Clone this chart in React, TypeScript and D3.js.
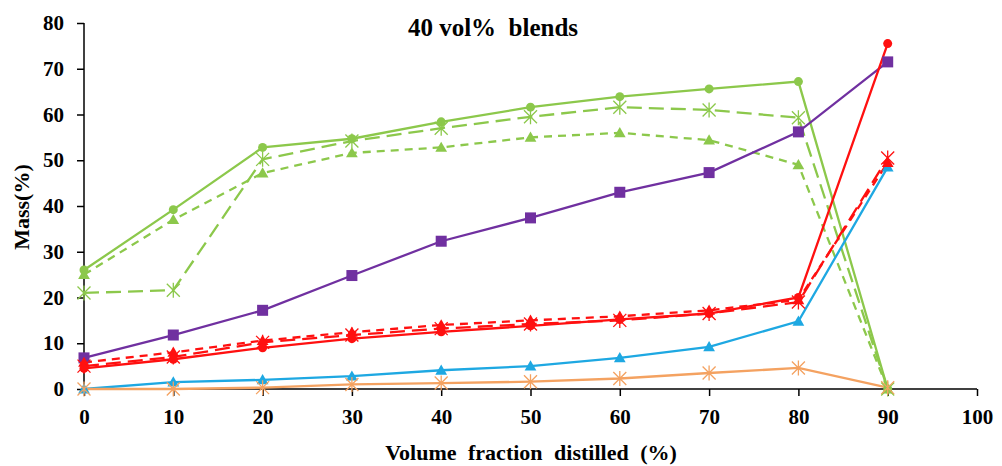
import React, { useEffect, useRef } from 'react'
import * as d3 from 'd3'

// distilled volume fraction (%)
const fractions = [0, 10, 20, 30, 40, 50, 60, 70, 80, 90]
const xTicks = [0, 10, 20, 30, 40, 50, 60, 70, 80, 90, 100]
const yTicks = [0, 10, 20, 30, 40, 50, 60, 70, 80]

const greenCircle = [26, 39.2, 52.8, 54.7, 58.4, 61.6, 63.9, 65.6, 67.2, 0]
const greenStar = [21, 21.6, 50.2, 54.2, 57, 59.5, 61.6, 61, 59.3, 0]
const greenTriangle = [25, 37, 47.2, 51.6, 52.8, 55, 56, 54.4, 49, 0]
const purpleSquare = [6.8, 11.8, 17.2, 24.8, 32.3, 37.4, 43, 47.3, 56.2, 71.5]
const redCircle = [4.5, 6.5, 9, 11, 12.5, 13.8, 15.2, 16.5, 20, 75.5]
const redStar = [5, 7, 10.2, 11.8, 13.2, 14.2, 15, 16.5, 19, 50.5]
const redTriangle = [5.8, 8, 10.6, 12.4, 14, 15, 15.9, 17.2, 19.5, 49.5]
const blueTriangle = [0, 1.5, 2, 2.8, 4.1, 5, 6.8, 9.2, 14.8, 48.5]
const orangeStar = [0, 0, 0.3, 1, 1.3, 1.6, 2.3, 3.5, 4.6, 0.3]

const series = [
  { values: greenCircle, color: '#8cc84b', dash: null, marker: 'circle' },
  { values: greenStar, color: '#8cc84b', dash: '15,7', marker: 'star' },
  { values: greenTriangle, color: '#8cc84b', dash: '8,6', marker: 'triangle' },
  { values: purpleSquare, color: '#7030a0', dash: null, marker: 'square' },
  { values: blueTriangle, color: '#1ea8e2', dash: null, marker: 'triangle' },
  { values: orangeStar, color: '#f4a261', dash: null, marker: 'star' },
  { values: redStar, color: '#ff1010', dash: '15,7', marker: 'star' },
  { values: redTriangle, color: '#ff1010', dash: '8,6', marker: 'triangle' },
  { values: redCircle, color: '#ff1010', dash: null, marker: 'circle' },
]

const W = 1002
const H = 466
const font = '"Liberation Serif", "Times New Roman", serif'

export default function App() {
  const ref = useRef<SVGSVGElement>(null)

  useEffect(() => {
    const svg = d3.select(ref.current)
    svg.selectAll('*').remove()

    const x = d3.scaleLinear().domain([0, 100]).range([84, 977])
    const y = d3.scaleLinear().domain([0, 80]).range([389, 23])

    // axes
    const yAxis = svg.append('g').attr('transform', 'translate(84,0)')
      .call(d3.axisLeft(y).tickValues(yTicks).tickSize(7).tickPadding(13))
    const xAxis = svg.append('g').attr('transform', 'translate(0,389)')
      .call(d3.axisBottom(x).tickValues(xTicks).tickSize(7).tickPadding(13))
    ;[yAxis, xAxis].forEach(g => {
      g.select('.domain').attr('stroke', '#000').attr('stroke-width', 1.5)
      g.selectAll('.tick line').attr('stroke', '#000').attr('stroke-width', 1.5)
      g.selectAll('.tick text')
        .attr('fill', '#000')
        .style('font-family', font)
        .style('font-weight', 'bold')
        .style('font-size', '21px')
    })
    // remove outer ticks of the domain path
    yAxis.select('.domain').attr('d', `M0,${y(80)}V${y(0)}`)
    xAxis.select('.domain').attr('d', `M${x(0)},0H${x(100)}`)

    const line = d3.line<number>()
      .x((d, i) => x(fractions[i]))
      .y(d => y(d))

    series.forEach(s => {
      svg.append('path')
        .attr('d', line(s.values))
        .attr('fill', 'none')
        .attr('stroke', s.color)
        .attr('stroke-width', 2.3)
        .attr('stroke-dasharray', s.dash)
    })

    series.forEach(s => {
      const g = svg.append('g')
      s.values.forEach((v, i) => {
        const cx = x(fractions[i]), cy = y(v)
        if (s.marker === 'circle') {
          g.append('circle').attr('cx', cx).attr('cy', cy).attr('r', 4.5).attr('fill', s.color)
        } else if (s.marker === 'square') {
          g.append('rect').attr('x', cx - 5.5).attr('y', cy - 5.5)
            .attr('width', 11).attr('height', 11).attr('fill', s.color)
        } else if (s.marker === 'triangle') {
          g.append('path')
            .attr('d', d3.symbol(d3.symbolTriangle, 60)())
            .attr('transform', `translate(${cx},${cy + 1})`)
            .attr('fill', s.color)
        } else {
          const r = 6.5
          g.append('path')
            .attr('d', `M${cx - r},${cy - r}L${cx + r},${cy + r}M${cx - r},${cy + r}L${cx + r},${cy - r}M${cx},${cy - r - 1}L${cx},${cy + r + 1}`)
            .attr('stroke', s.color)
            .attr('stroke-width', 1.3)
        }
      })
    })

    // title and axis labels
    svg.append('text')
      .attr('x', 493).attr('y', 36)
      .attr('text-anchor', 'middle')
      .style('font-family', font).style('font-weight', 'bold').style('font-size', '25px')
      .style('white-space', 'pre')
      .text('40 vol%  blends')

    svg.append('text')
      .attr('transform', 'translate(29,207) rotate(-90)')
      .attr('text-anchor', 'middle')
      .style('font-family', font).style('font-weight', 'bold').style('font-size', '22px')
      .text('Mass(%)')

    svg.append('text')
      .attr('x', 531).attr('y', 460)
      .attr('text-anchor', 'middle')
      .attr('word-spacing', 6)
      .style('font-family', font).style('font-weight', 'bold').style('font-size', '22px')
      .text('Volume fraction distilled (%)')
  }, [])

  return (
    <div style={{ position: 'absolute', left: 0, top: 0, background: '#fff' }}>
      <svg ref={ref} width={W} height={H}></svg>
    </div>
  )
}
